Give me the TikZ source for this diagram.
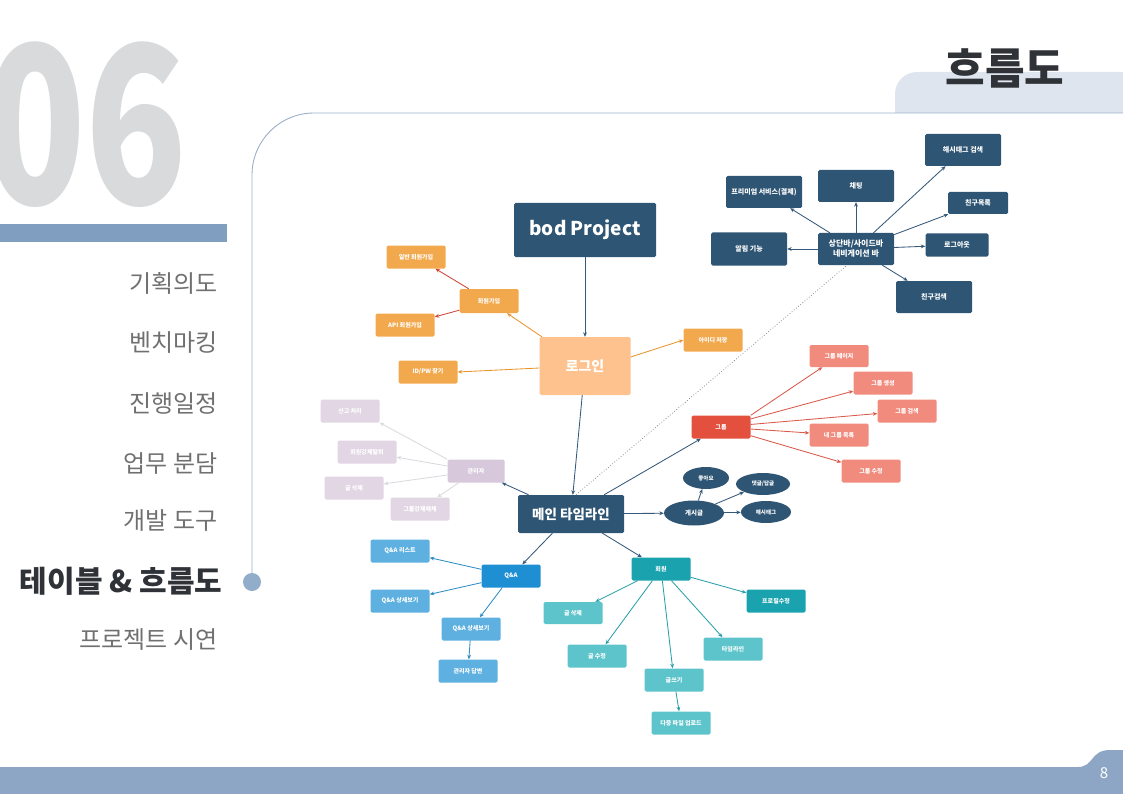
\documentclass[tikz,border=0pt]{standalone}
\usepackage{fontspec}
\setmainfont{Noto Sans CJK KR}
\usetikzlibrary{arrows.meta,shapes.geometric,calc}
\definecolor{navy}{HTML}{2E5574}
\definecolor{navyarr}{HTML}{35597A}
\definecolor{lorange}{HTML}{FDC28E}
\definecolor{orange}{HTML}{F2A94E}
\definecolor{orarr}{HTML}{E8952E}
\definecolor{redarr}{HTML}{CF4538}
\definecolor{lav}{HTML}{E2D5E4}
\definecolor{lavd}{HTML}{D7C8DB}
\definecolor{lavarr}{HTML}{D9D9E0}
\definecolor{grp}{HTML}{E4503E}
\definecolor{salmon}{HTML}{F08B7D}
\definecolor{grparr}{HTML}{D95A4A}
\definecolor{qa}{HTML}{1E8FD2}
\definecolor{lqa}{HTML}{5DB0DF}
\definecolor{qaarr}{HTML}{2E8DC4}
\definecolor{teal}{HTML}{1AA2AE}
\definecolor{lteal}{HTML}{5EC4CB}
\definecolor{tealarr}{HTML}{2A9FA8}
\definecolor{menugray}{HTML}{707070}
\definecolor{menudark}{HTML}{2F3338}
\definecolor{bignum}{HTML}{D9DADC}
\definecolor{barblue}{HTML}{7F9EC0}
\definecolor{linecol}{HTML}{9AAFC8}
\definecolor{tabcol}{HTML}{DFE5EF}
\definecolor{botbar}{HTML}{8DA6C6}
\definecolor{dotcol}{HTML}{8A8F96}
\tikzset{
  box/.style={rectangle, rounded corners=1.5pt, text=white, inner sep=0pt, align=center,
    font=\bfseries\fontsize{6}{7}\selectfont, minimum width=59pt, minimum height=23pt},
  navbox/.style={box, fill=navy, minimum width=76pt, minimum height=32pt, font=\bfseries\fontsize{7}{8.5}\selectfont},
  orbox/.style={box, fill=orange},
  lavbox/.style={box, fill=lav},
  salbox/.style={box, fill=salmon},
  qabox/.style={box, fill=lqa},
  tealbox/.style={box, fill=lteal},
  ell/.style={ellipse, fill=navy, text=white, inner sep=0pt, font=\bfseries\fontsize{5.5}{6}\selectfont},
  arr/.style={-{Stealth[length=4.5pt,width=3.8pt]}, line width=0.85pt},
  menu/.style={anchor=east, text=menugray, font=\fontsize{24}{26}\selectfont}
}
\begin{document}
\begin{tikzpicture}[x=1pt,y=-1pt]
\useasboundingbox (0,0) rectangle (1123,794);
\clip (0,0) rectangle (1123,794);
% big number
\node[anchor=base east, inner sep=0pt, text=bignum, font=\bfseries\fontsize{220}{220}\selectfont] (num) at (188,205) {\scalebox{0.76}[1]{06}};
% left bar
\fill[barblue] (0,224) rectangle (227,242);
% menu
\node[menu] (m1) at (221,283) {기획의도};
\node[menu] (m2) at (221,343) {벤치마킹};
\node[menu] (m3) at (221,403) {진행일정};
\node[menu] (m4) at (221,463) {업무 분담};
\node[menu] (m5) at (221,521) {개발 도구};
\node[menu, text=menudark, font=\bfseries\fontsize{30}{32}\selectfont] (m6) at (226,581) {테이블 \& 흐름도};
\node[menu] (m7) at (221,640) {프로젝트 시연};
% tab
\fill[tabcol] (895,113) [rounded corners=22pt] -- (895,72) [sharp corners] -- (1130,72) -- (1130,113) -- cycle;
\node[text=menudark, font=\bfseries\fontsize{43}{45}\selectfont] (title) at (1005,68) {흐름도};
% frame line
\draw[linecol, line width=0.9pt, rounded corners=62pt] (252,582) -- (252,113) -- (1130,113);
\fill[barblue!85] (252,582) circle (9pt);
% bottom bar
\fill[botbar] (0,767) -- (1078,767) .. controls (1094,767) and (1090,750) .. (1110,750) -- (1130,750) -- (1130,794) -- (0,794) -- cycle;
\node[text=white, font=\fontsize{15}{16}\selectfont] (pg) at (1104,773) {8};

% ===== diagram =====
\node[box, fill=navy, minimum width=142pt, minimum height=54pt, font=\bfseries\fontsize{19}{21}\selectfont] (bod) at (585,230) {bod Project};
\node[box, fill=lorange, minimum width=91pt, minimum height=58pt, font=\bfseries\fontsize{14}{16}\selectfont] (login) at (585,366) {로그인};
\node[box, fill=navy, minimum width=106pt, minimum height=38pt, font=\bfseries\fontsize{13.5}{15}\selectfont] (main) at (571,514) {메인 타임라인};

% nav cluster
\node[navbox, font=\bfseries\fontsize{8}{10}\selectfont] (nav) at (856,249) {상단바/사이드바\\네비게이션 바};
\node[navbox] (hash) at (963,150) {해시태그 검색};
\node[navbox] (chat) at (856,186) {채팅};
\node[navbox] (prem) at (764,192) {프리미엄 서비스(결제)};
\node[navbox, minimum width=60pt, minimum height=22pt] (flist) at (978,203) {친구목록};
\node[navbox, minimum height=33pt] (alarm) at (749,249) {알림 기능};
\node[navbox, minimum width=63pt, minimum height=23pt] (logout) at (957,245) {로그아웃};
\node[navbox] (fsearch) at (934,297) {친구검색};
\foreach \t in {hash,chat,prem,flist,alarm,logout,fsearch}
  \draw[arr, navyarr] (nav) -- (\t);

% login cluster
\node[orbox, minimum height=24pt] (join) at (489,301) {회원가입};
\node[orbox] (join1) at (416,257) {일반 회원가입};
\node[orbox] (join2) at (405,325) {API 회원가입};
\node[orbox] (find) at (428,372) {ID/PW 찾기};
\node[orbox] (save) at (713,340) {아이디 저장};
\draw[arr, orarr] (login) -- (join);
\draw[arr, redarr] (join) -- (join1);
\draw[arr, redarr] (join.south west) ++(0,-3) -- (join2);
\draw[arr, orarr] (login.west) ++(0,2) -- (find.east);
\draw[arr, orarr] (login.east) ++(0,-9) -- (save.west);
\draw[arr, navyarr] (bod) -- (login);
\draw[arr, navyarr] (login) -- (main);

% admin cluster
\node[lavbox, fill=lavd, minimum width=57pt] (admin) at (476,471) {관리자};
\node[lavbox] (report) at (350,411) {신고 처리};
\node[lavbox] (kick) at (367,452) {회원강제탈퇴};
\node[lavbox] (pdel) at (354,488) {글 삭제};
\node[lavbox] (gdis) at (420,509) {그룹강제해체};
\draw[arr, lavarr] (admin.north west) -- (report.south east);
\draw[arr, lavarr] (admin) -- (kick);
\draw[arr, lavarr] (admin) -- (pdel);
\draw[arr, lavarr] (admin) -- (gdis);
\draw[arr, navyarr] (main) -- (admin);

% group cluster
\node[box, fill=grp] (grp) at (721,427) {그룹};
\node[salbox, minimum height=22pt] (gpage) at (839,356) {그룹 페이지};
\node[salbox] (gnew) at (883,383) {그룹 생성};
\node[salbox] (gfind) at (907,411) {그룹 검색};
\node[salbox] (gmine) at (839,435) {내 그룹 목록};
\node[salbox] (gedit) at (871,471) {그룹 수정};
\draw[arr, grparr] (grp.north east) -- (gpage);
\foreach \t in {gnew,gfind,gmine,gedit}
  \draw[arr, grparr] (grp) -- (\t);
\draw[arr, navyarr] (main) -- (grp);

% post cluster
\node[ell, minimum width=60pt, minimum height=25pt, font=\bfseries\fontsize{6.5}{7}\selectfont] (post) at (694,513) {게시글};
\node[ell, minimum width=46pt, minimum height=22pt] (like) at (706,478) {좋아요};
\node[ell, minimum width=54pt, minimum height=22pt] (cmt) at (763,484) {댓글/답글};
\node[ell, minimum width=50pt, minimum height=22pt] (tag) at (766,512) {해시태그};
\draw[arr, navyarr] (main) -- (post);
\draw[arr, navyarr] (post) -- (like);
\draw[arr, navyarr] (post) -- (cmt);
\draw[arr, navyarr] (post) -- (tag);

% Q&A cluster
\node[box, fill=qa] (qa) at (511,576) {Q\&A};
\node[qabox] (qlist) at (400,551) {Q\&A 리스트};
\node[qabox] (qview) at (400,601) {Q\&A 상세보기};
\node[qabox] (qview2) at (471,629) {Q\&A 상세보기};
\node[qabox] (qans) at (468,671) {관리자 답변};
\draw[arr, qaarr] (qa) -- (qlist);
\draw[arr, qaarr] (qa) -- (qview);
\draw[arr, qaarr] (qa) -- (qview2);
\draw[arr, qaarr] (qview2) -- (qans);
\draw[arr, navyarr] (main) -- (qa);

% member cluster
\node[box, fill=teal] (mem) at (661,569) {회원};
\node[tealbox, minimum height=22pt] (mdel) at (573,613) {글 삭제};
\node[tealbox] (medit) at (597,656) {글 수정};
\node[tealbox] (mwrite) at (674,680) {글쓰기};
\node[tealbox] (mfile) at (681,723) {다중 파일 업로드};
\node[tealbox] (mtime) at (733,649) {타임라인};
\node[box, fill=teal] (mprof) at (776,601) {프로필수정};
\draw[arr, tealarr] (mem) -- (mdel);
\draw[arr, tealarr] (mem) -- (medit);
\draw[arr, tealarr] (mem) -- (mwrite);
\draw[arr, tealarr] (mem) -- (mtime);
\draw[arr, tealarr] (mem) -- (mprof);
\draw[arr, tealarr] (mwrite) -- (mfile);
\draw[arr, navyarr] (main) -- (mem);

% dotted link
\coordinate (d1) at ($(main.north)+(5,0)$);
\coordinate (d2) at ($(nav.south)+(-9,0)$);
\draw[dotcol, dotted, line width=0.8pt] (d1) -- (d2);
\end{tikzpicture}
\end{document}
